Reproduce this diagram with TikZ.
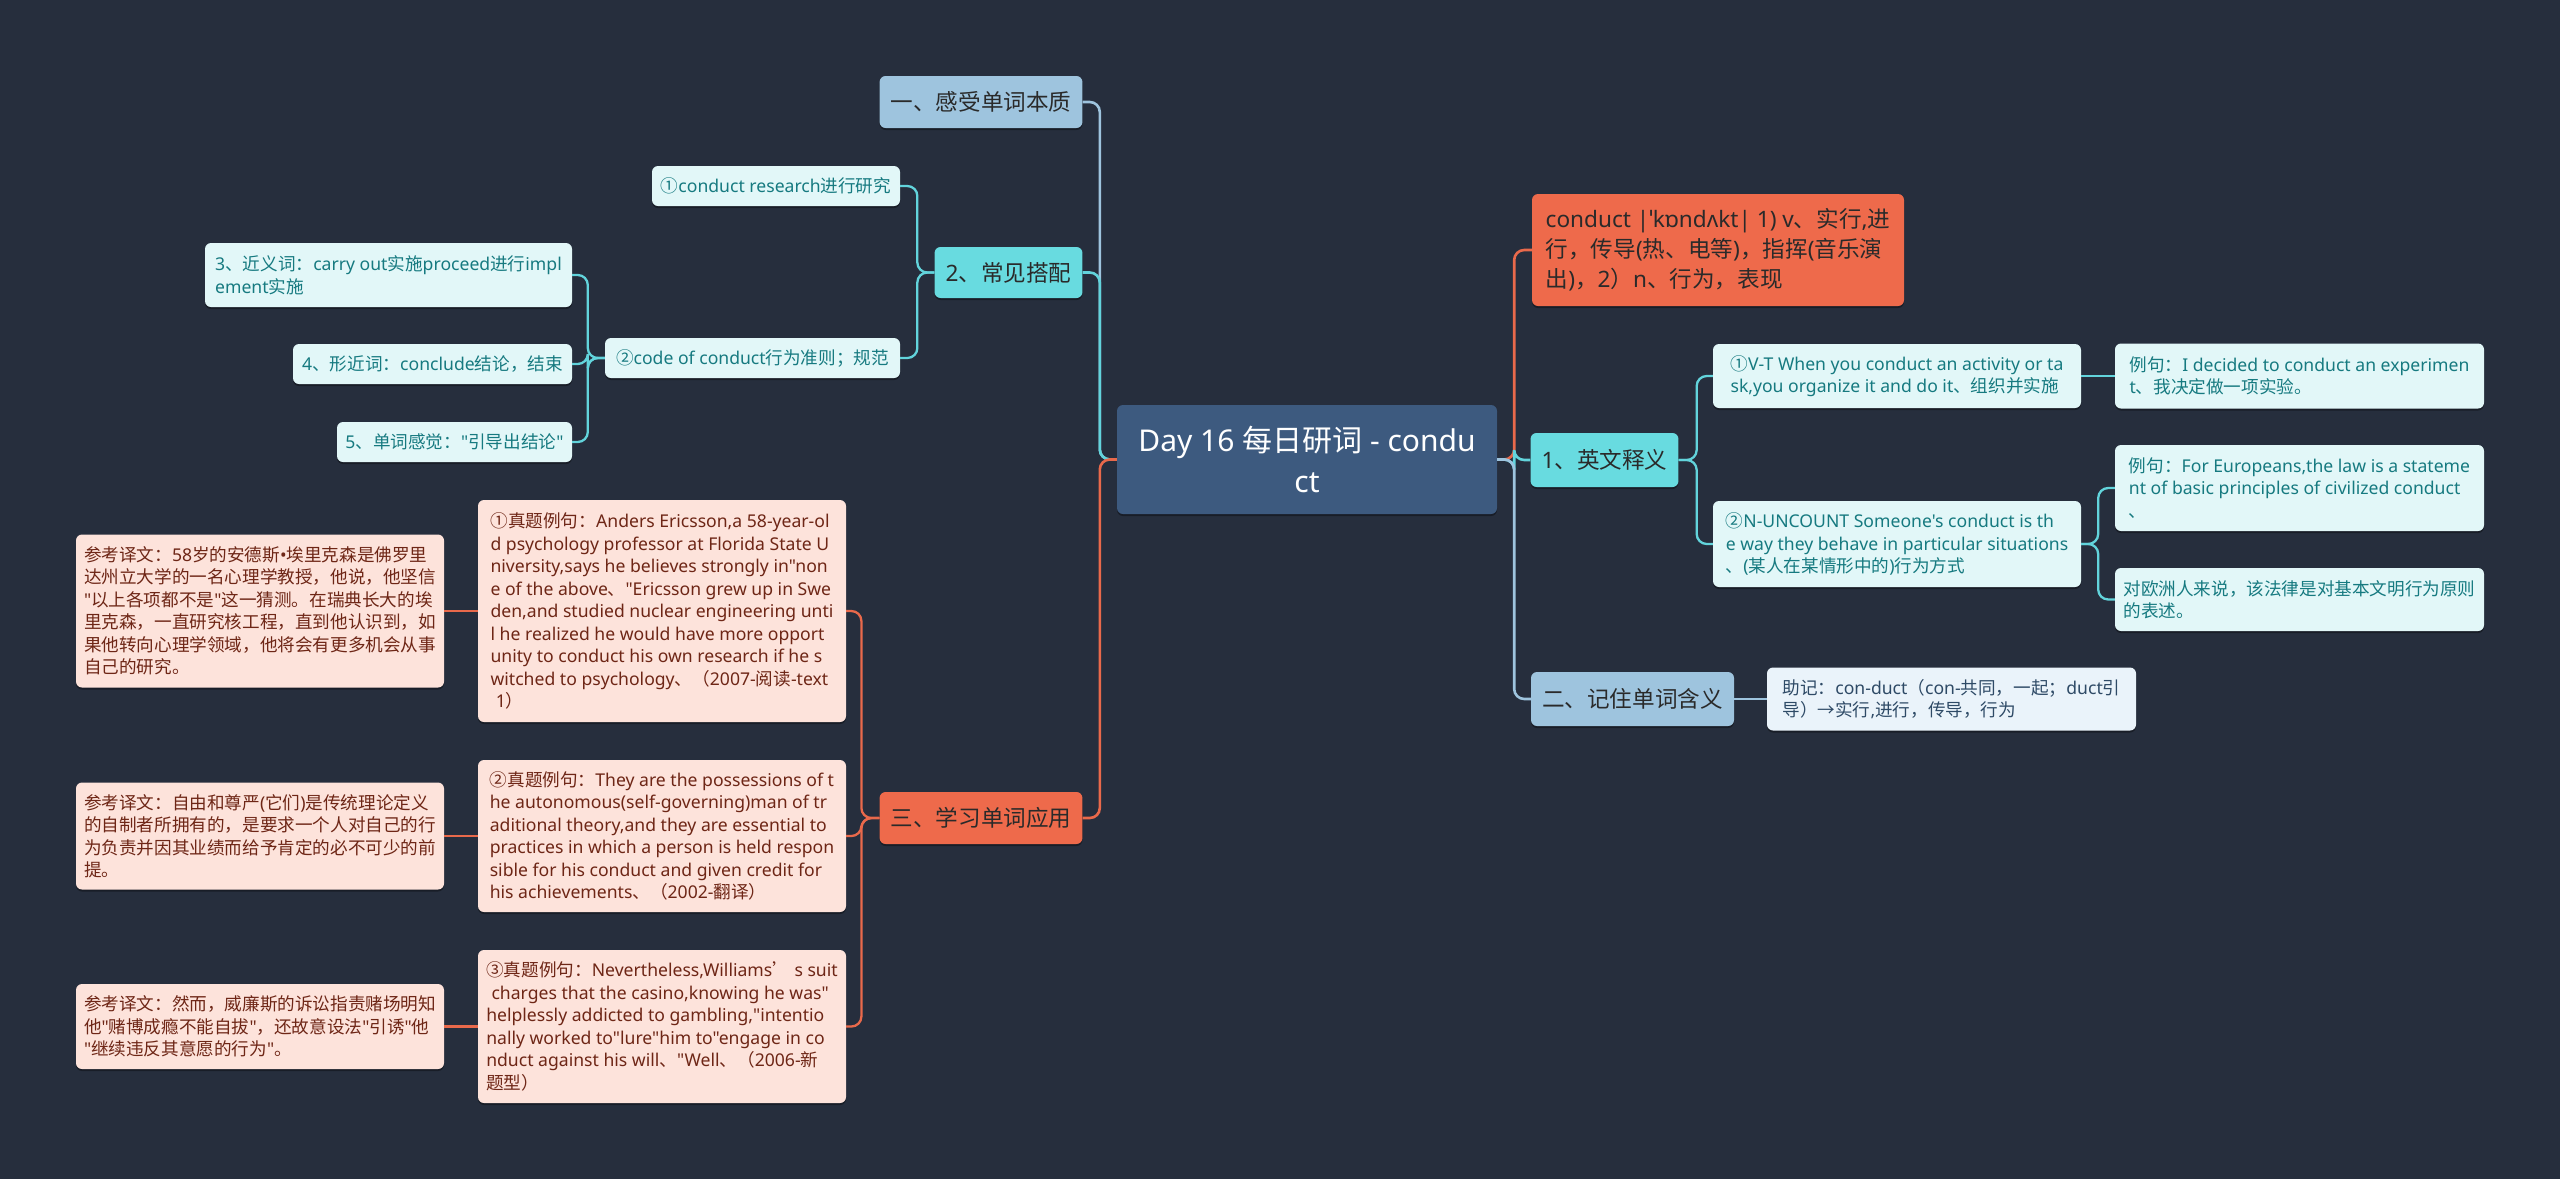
\documentclass[tikz,border=0pt]{standalone}
\usepackage{fontspec}
\usetikzlibrary{shadows}
\newfontfamily\cjk{Noto Sans CJK SC}
\newfontfamily\latin{Noto Sans}[Scale=1.0]
% switch font between Latin and CJK characters
\XeTeXinterchartokenstate=1
\newXeTeXintercharclass\CJKcls
\makeatletter
\newcommand\mysetcls[2]{%
  \count@=#1\relax
  \loop
    \XeTeXcharclass\count@=\CJKcls
    \ifnum\count@<#2\relax
    \advance\count@ by 1
  \repeat}
\makeatother
\mysetcls{"2018}{"201D}
\mysetcls{"2190}{"21FF}
\mysetcls{"2460}{"24FF}
\mysetcls{"3000}{"303F}
\mysetcls{"4E00}{"9FFF}
\mysetcls{"FF00}{"FFEF}
\XeTeXinterchartoks 0 \CJKcls = {\cjk}
\XeTeXinterchartoks 4095 \CJKcls = {\cjk}
\XeTeXinterchartoks \CJKcls 0 = {\latin}
\XeTeXinterchartoks \CJKcls 4095 = {\latin}
\definecolor{bg}{HTML}{262E3D}
\definecolor{rootfill}{HTML}{3D5A7F}
\definecolor{orangebox}{HTML}{EE6A4B}
\definecolor{cyanbox}{HTML}{68DBE0}
\definecolor{bluebox}{HTML}{9EC4DE}
\definecolor{lightcyan}{HTML}{E2F7F8}
\definecolor{lightblue}{HTML}{EAF3FA}
\definecolor{peach}{HTML}{FDE3DB}
\definecolor{tealtext}{HTML}{167A80}
\definecolor{bluetext}{HTML}{2E4A66}
\definecolor{browntext}{HTML}{6E2616}
\definecolor{darktext}{HTML}{2A2A2A}
\definecolor{cyanline}{HTML}{62D4DC}
\definecolor{blueline}{HTML}{9EC4DE}
\definecolor{orangeline}{HTML}{E9694B}
\tikzset{
  box/.style={rounded corners=6pt, inner xsep=8pt, inner ysep=5pt, align=left, anchor=center,
    drop shadow={shadow xshift=0pt, shadow yshift=-2pt, fill=black, opacity=0.35}},
  rootbox/.style={box, fill=rootfill, text=white, align=center, font={\latin\fontsize{30}{41}\selectfont}},
  mainbox/.style={box, inner xsep=11pt, text=darktext, font={\latin\fontsize{22.6}{30}\selectfont}},
  subbox/.style={box, font={\latin\fontsize{17.6}{22.5}\selectfont}},
  cyansub/.style={subbox, fill=lightcyan, text=tealtext},
  peachsub/.style={subbox, fill=peach, text=browntext},
  bluesub/.style={subbox, fill=lightblue, text=bluetext},
  conn/.style={line width=2.6pt, rounded corners=10pt},
  subconn/.style={line width=2.3pt, rounded corners=10pt}
}
\begin{document}
\begin{tikzpicture}[x=1pt, y=-1pt]
\fill[bg] (0,0) rectangle (2560,1179);
\useasboundingbox (0,0) rectangle (2560,1179);

% root
\node[rootbox, minimum width=380pt, minimum height=109pt] (root) at (1307,459.5) {Day 16 每日研词 - condu\\ct};

% right side
\node[mainbox, fill=orangebox, minimum width=372pt, minimum height=112pt, inner xsep=9pt] (cdef) at (1718,250) {conduct |ˈkɒndʌkt| 1) v、实行,进\\行，传导(热、电等)，指挥(音乐演\\出)，2）n、行为，表现};
\node[mainbox, fill=cyanbox, minimum width=147pt, minimum height=54pt] (b1) at (1604.5,460) {1、英文释义};
\node[cyansub, minimum width=368pt, minimum height=64pt] (d1) at (1897,376) {①V-T When you conduct an activity or ta\\sk,you organize it and do it、组织并实施};
\node[cyansub, minimum width=369pt, minimum height=65pt] (e1) at (2299.5,376) {例句：I decided to conduct an experimen\\t、我决定做一项实验。};
\node[cyansub, minimum width=368pt, minimum height=86pt] (d2) at (1897,544) {②N-UNCOUNT Someone's conduct is th\\e way they behave in particular situations\\、(某人在某情形中的)行为方式};
\node[cyansub, minimum width=369pt, minimum height=86pt] (e2) at (2299.5,488) {例句：For Europeans,the law is a stateme\\nt of basic principles of civilized conduct\\、};
\node[cyansub, minimum width=369pt, minimum height=63pt] (e3) at (2299.5,599.5) {对欧洲人来说，该法律是对基本文明行为原则\\的表述。};
\node[mainbox, fill=bluebox, minimum width=203pt, minimum height=54pt] (b2) at (1632.5,699) {二、记住单词含义};
\node[bluesub, minimum width=369pt, minimum height=63pt] (mem) at (1951.5,699) {助记：con-duct（con-共同，一起；duct引\\导）→实行,进行，传导，行为};

% left side
\node[mainbox, fill=bluebox, minimum width=202pt, minimum height=52pt] (l1) at (981,102) {一、感受单词本质};
\node[mainbox, fill=cyanbox, minimum width=147pt, minimum height=51pt] (l2) at (1008.5,272.5) {2、常见搭配};
\node[cyansub, minimum width=248pt, minimum height=40pt] (c1) at (776,186) {①conduct research进行研究};
\node[cyansub, minimum width=295pt, minimum height=40pt] (c2) at (752.5,358) {②code of conduct行为准则；规范};
\node[cyansub, minimum width=367pt, minimum height=64pt] (s3) at (388.5,275) {3、近义词：carry out实施proceed进行impl\\ement实施};
\node[cyansub, minimum width=279pt, minimum height=40pt] (s4) at (432.5,364) {4、形近词：conclude结论，结束};
\node[cyansub, minimum width=235pt, minimum height=40pt] (s5) at (454.5,442) {5、单词感觉："引导出结论"};

\node[mainbox, fill=orangebox, minimum width=202pt, minimum height=52pt] (l3) at (981,818) {三、学习单词应用};
\node[peachsub, minimum width=368pt, minimum height=222pt] (x1) at (662,611) {①真题例句：Anders Ericsson,a 58-year-ol\\d psychology professor at Florida State U\\niversity,says he believes strongly in"non\\e of the above、"Ericsson grew up in Swe\\den,and studied nuclear engineering unti\\l he realized he would have more opport\\unity to conduct his own research if he s\\witched to psychology、（2007-阅读-text\\\hspace*{0.3em}1）};
\node[peachsub, minimum width=368pt, minimum height=153pt] (t1) at (260,611) {参考译文：58岁的安德斯•埃里克森是佛罗里\\达州立大学的一名心理学教授，他说，他坚信\\"以上各项都不是"这一猜测。在瑞典长大的埃\\里克森，一直研究核工程，直到他认识到，如\\果他转向心理学领域，他将会有更多机会从事\\自己的研究。};
\node[peachsub, minimum width=368pt, minimum height=152pt] (x2) at (662,836) {②真题例句：They are the possessions of t\\he autonomous(self-governing)man of tr\\aditional theory,and they are essential to\\practices in which a person is held respon\\sible for his conduct and given credit for\\his achievements、（2002-翻译）};
\node[peachsub, minimum width=368pt, minimum height=107pt] (t2) at (260,836) {参考译文：自由和尊严(它们)是传统理论定义\\的自制者所拥有的，是要求一个人对自己的行\\为负责并因其业绩而给予肯定的必不可少的前\\提。};
\node[peachsub, minimum width=368pt, minimum height=153pt] (x3) at (662,1026.5) {③真题例句：Nevertheless,Williams’ s suit\\\hspace*{0.3em}charges that the casino,knowing he was"\\helplessly addicted to gambling,"intentio\\nally worked to"lure"him to"engage in co\\nduct against his will、"Well、（2006-新\\题型）};
\node[peachsub, minimum width=368pt, minimum height=85pt] (t3) at (260,1026.5) {参考译文：然而，威廉斯的诉讼指责赌场明知\\他"赌博成瘾不能自拔"，还故意设法"引诱"他\\"继续违反其意愿的行为"。};

% connectors right
\draw[conn, orangeline] (root.east) -- ++(17,0) |- (cdef.west);
\draw[conn, cyanline] (root.east) -- ++(17,0) |- (b1.west);
\draw[conn, blueline] (root.east) -- ++(17,0) |- (b2.west);
\draw[subconn, cyanline] (b1.east) -- ++(18,0) |- (d1.west);
\draw[subconn, cyanline] (b1.east) -- ++(18,0) |- (d2.west);
\draw[subconn, cyanline] (d1.east) -- (e1.west);
\draw[subconn, cyanline] (d2.east) -- ++(17,0) |- (e2.west);
\draw[subconn, cyanline] (d2.east) -- ++(17,0) |- (e3.west);
\draw[subconn, blueline] (b2.east) -- (mem.west);

% connectors left
\draw[conn, blueline] (root.west) -- ++(-17,0) |- (l1.east);
\draw[conn, cyanline] (root.west) -- ++(-17,0) |- (l2.east);
\draw[conn, orangeline] (root.west) -- ++(-17,0) |- (l3.east);
\draw[subconn, cyanline] (l2.west) -- ++(-17,0) |- (c1.east);
\draw[subconn, cyanline] (l2.west) -- ++(-17,0) |- (c2.east);
\draw[subconn, cyanline] (c2.west) -- ++(-17,0) |- (s3.east);
\draw[subconn, cyanline] (c2.west) -- ++(-17,0) |- (s4.east);
\draw[subconn, cyanline] (c2.west) -- ++(-17,0) |- (s5.east);
\draw[subconn, orangeline] (l3.west) -- ++(-18,0) |- (x1.east);
\draw[subconn, orangeline] (l3.west) -- ++(-18,0) |- (x2.east);
\draw[subconn, orangeline] (l3.west) -- ++(-18,0) |- (x3.east);
\draw[subconn, orangeline] (x1.west) -- (t1.east);
\draw[subconn, orangeline] (x2.west) -- (t2.east);
\draw[subconn, orangeline] (x3.west) -- (t3.east);
\end{tikzpicture}
\end{document}
